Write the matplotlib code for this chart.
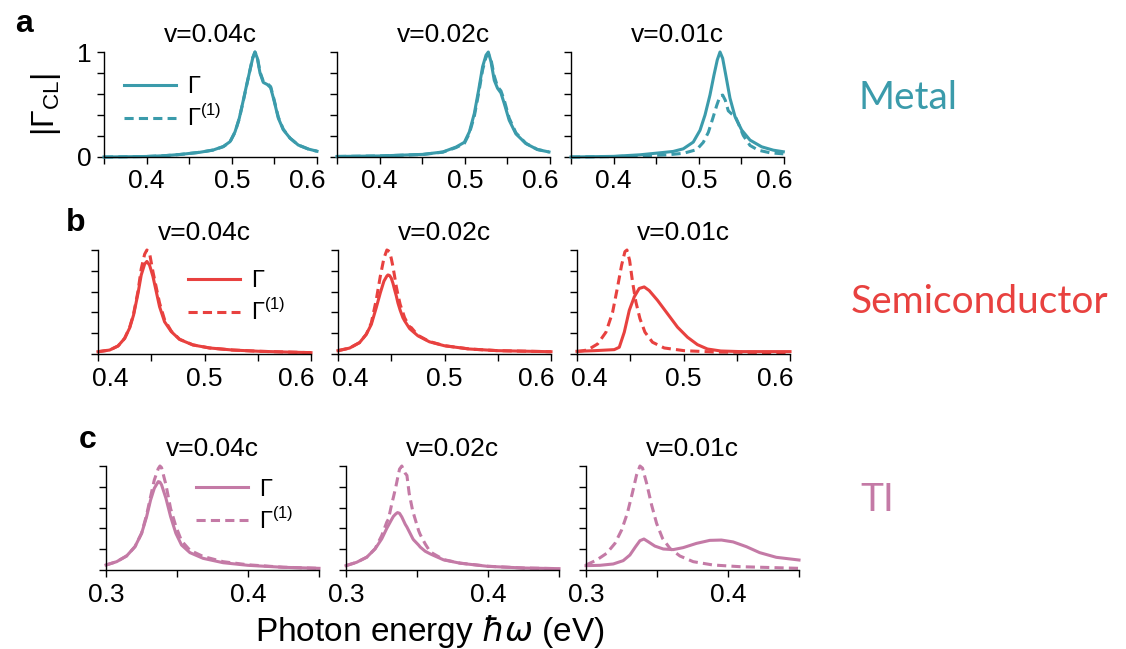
import matplotlib
matplotlib.use("Agg")
import matplotlib.pyplot as plt
import matplotlib.transforms as mtransforms
import numpy as np

plt.rcParams['font.family'] = ['Liberation Sans', 'DejaVu Sans']
plt.rcParams['mathtext.fontset'] = 'custom'
plt.rcParams['mathtext.rm'] = 'Liberation Sans'
plt.rcParams['mathtext.it'] = 'DejaVu Sans:italic'
plt.rcParams['mathtext.fallback'] = 'stixsans'

# ---------------- data ----------------
speeds = ["v=0.04c", "v=0.02c", "v=0.01c"]
materials = ["Metal", "Semiconductor", "TI"]
panel_letters = ["a", "b", "c"]

# Metal, v=0.04c
a1_x = [0.35, 0.40, 0.42, 0.4392, 0.4627, 0.4783, 0.490, 0.4979, 0.5038, 0.5088, 0.5135, 0.5175, 0.5214, 0.5245, 0.5272,
        0.530, 0.5331, 0.537, 0.5417, 0.5456, 0.5495, 0.5546, 0.5604, 0.5683, 0.578, 0.5898, 0.60]
a1_g = [0.0, 0.005, 0.012, 0.024, 0.045, 0.067, 0.10, 0.146, 0.24, 0.37, 0.54, 0.69, 0.83, 0.94, 1.0,
        0.94, 0.80, 0.71, 0.69, 0.66, 0.54, 0.37, 0.26, 0.18, 0.114, 0.076, 0.055]
a1_g1 = [0.0, 0.005, 0.012, 0.024, 0.045, 0.066, 0.098, 0.143, 0.235, 0.365, 0.535, 0.685, 0.83, 0.945, 1.0,
         0.95, 0.81, 0.72, 0.70, 0.67, 0.55, 0.38, 0.265, 0.18, 0.114, 0.076, 0.055]
# Metal, v=0.02c
a2_x = [0.35, 0.4002, 0.4508, 0.4742, 0.4898, 0.4995, 0.5054, 0.5112, 0.5163, 0.5209, 0.5249, 0.5276, 0.5307, 0.5346,
        0.5384, 0.5424, 0.5463, 0.5521, 0.560, 0.5717, 0.5852, 0.5988]
a2_g = [0.005, 0.01, 0.025, 0.048, 0.095, 0.14, 0.24, 0.415, 0.64, 0.86, 0.97, 1.0, 0.91, 0.73,
        0.655, 0.61, 0.51, 0.35, 0.22, 0.128, 0.071, 0.048]
a2_g1 = [0.005, 0.01, 0.024, 0.046, 0.09, 0.13, 0.225, 0.39, 0.61, 0.83, 0.95, 0.98, 0.93, 0.77,
         0.67, 0.63, 0.54, 0.37, 0.23, 0.13, 0.072, 0.048]
# Metal, v=0.01c
a3_x = [0.35, 0.40, 0.431, 0.4545, 0.47, 0.4818, 0.4935, 0.5014, 0.5073, 0.5131, 0.5178, 0.5217, 0.5249, 0.528,
        0.5319, 0.5366, 0.5425, 0.5503, 0.5601, 0.5738, 0.5875, 0.5992]
a3_g = [0.0, 0.006, 0.021, 0.04, 0.053, 0.078, 0.142, 0.254, 0.40, 0.59, 0.78, 0.925, 1.0, 0.94,
        0.77, 0.56, 0.385, 0.257, 0.161, 0.097, 0.065, 0.05]
a3_x1 = [0.35, 0.40, 0.4623, 0.4818, 0.4975, 0.5053, 0.5112, 0.5163, 0.521, 0.5249, 0.528, 0.5311, 0.5346, 0.5386,
         0.5425, 0.5464, 0.5522, 0.5601, 0.5698, 0.5836, 0.5992]
a3_g1 = [0.0, 0.004, 0.02, 0.035, 0.07, 0.14, 0.235, 0.365, 0.49, 0.58, 0.59, 0.54, 0.44, 0.41,
         0.39, 0.32, 0.205, 0.11, 0.065, 0.04, 0.03]

# Semiconductor, v=0.04c
b1_x = [0.40, 0.4109, 0.4188, 0.425, 0.4297, 0.4334, 0.4375, 0.4406, 0.4438, 0.4459, 0.4484, 0.4516, 0.4547, 0.4578,
        0.4625, 0.4688, 0.4766, 0.4891, 0.5047, 0.5266, 0.5516, 0.5766, 0.60]
b1_g = [0.022, 0.038, 0.077, 0.15, 0.25, 0.375, 0.58, 0.76, 0.865, 0.89, 0.855, 0.745, 0.60, 0.455,
        0.31, 0.215, 0.14, 0.087, 0.058, 0.038, 0.026, 0.019, 0.013]
b1_g1 = [0.022, 0.038, 0.077, 0.15, 0.255, 0.385, 0.60, 0.82, 0.96, 1.0, 0.97, 0.79, 0.64, 0.49,
         0.33, 0.22, 0.142, 0.088, 0.058, 0.038, 0.026, 0.019, 0.013]
# Semiconductor, v=0.02c
b2_x = [0.40, 0.4109, 0.4203, 0.4266, 0.4313, 0.4359, 0.4397, 0.4431, 0.4459, 0.4469, 0.4484, 0.45, 0.4516, 0.4531,
        0.4547, 0.4563, 0.4584, 0.4609, 0.4625, 0.4672, 0.4688, 0.475, 0.4859, 0.50, 0.5234, 0.55, 0.60]
b2_g = [0.032, 0.057, 0.11, 0.19, 0.285, 0.445, 0.587, 0.70, 0.75, 0.76, 0.755, 0.73, 0.68, 0.62,
        0.56, 0.49, 0.42, 0.35, 0.32, 0.245, 0.23, 0.175, 0.117, 0.079, 0.048, 0.032, 0.022]
b2_g1 = [0.032, 0.057, 0.11, 0.19, 0.30, 0.52, 0.746, 0.92, 1.0, 0.995, 0.984, 0.92, 0.84, 0.75,
         0.65, 0.57, 0.476, 0.40, 0.35, 0.26, 0.254, 0.18, 0.12, 0.08, 0.048, 0.032, 0.022]
# Semiconductor, v=0.01c
b3_x1 = [0.40, 0.41, 0.4194, 0.4272, 0.4334, 0.4381, 0.4419, 0.445, 0.4469, 0.4494, 0.4522, 0.4553, 0.4591, 0.4638,
         0.4709, 0.4819, 0.5006, 0.5288, 0.60]
b3_g1 = [0.023, 0.039, 0.097, 0.21, 0.40, 0.645, 0.855, 0.984, 1.0, 0.90, 0.69, 0.50, 0.34, 0.21,
         0.113, 0.058, 0.032, 0.019, 0.013]
b3_x = [0.40, 0.4163, 0.435, 0.4397, 0.4444, 0.4491, 0.4538, 0.4584, 0.4631, 0.4678, 0.4756, 0.485, 0.4944, 0.5038,
        0.5131, 0.5225, 0.535, 0.5538, 0.60]
b3_g = [0.026, 0.032, 0.042, 0.065, 0.21, 0.42, 0.55, 0.63, 0.645, 0.61, 0.516, 0.387, 0.258, 0.161,
        0.09, 0.048, 0.029, 0.023, 0.023]

# TI, v=0.04c
c1_x = [0.30, 0.3075, 0.3145, 0.3204, 0.3251, 0.3286, 0.3314, 0.334, 0.3368, 0.338, 0.3391, 0.3422, 0.3455, 0.3492,
        0.3532, 0.3591, 0.3684, 0.3825, 0.40, 0.4247, 0.45]
c1_g = [0.048, 0.08, 0.135, 0.224, 0.353, 0.513, 0.673, 0.785, 0.85, 0.845, 0.82, 0.69, 0.513, 0.353,
        0.24, 0.167, 0.112, 0.07, 0.045, 0.026, 0.016]
c1_g1 = [0.048, 0.08, 0.135, 0.224, 0.355, 0.53, 0.705, 0.865, 0.975, 1.0, 0.985, 0.82, 0.59, 0.42,
         0.28, 0.19, 0.13, 0.08, 0.05, 0.027, 0.016]
# TI, v=0.02c
c2_x = [0.30, 0.3075, 0.3146, 0.3205, 0.3252, 0.3287, 0.3299, 0.3323, 0.3334, 0.3351, 0.3363, 0.3377, 0.3393, 0.3417,
        0.3429, 0.3445, 0.3471, 0.3476, 0.3511, 0.3523, 0.3558, 0.3593, 0.3617, 0.3688, 0.3805, 0.40, 0.4253, 0.45]
c2_g = [0.042, 0.074, 0.123, 0.203, 0.30, 0.40, 0.43, 0.49, 0.516, 0.54, 0.552, 0.545, 0.51, 0.44,
        0.413, 0.37, 0.30, 0.29, 0.24, 0.22, 0.18, 0.155, 0.14, 0.097, 0.065, 0.035, 0.019, 0.013]
c2_g1 = [0.042, 0.074, 0.123, 0.205, 0.332, 0.46, 0.49, 0.64, 0.70, 0.80, 0.88, 0.97, 1.0, 0.93,
         0.91, 0.735, 0.56, 0.54, 0.38, 0.34, 0.25, 0.175, 0.155, 0.10, 0.066, 0.036, 0.019, 0.013]
# TI, v=0.01c
c3_x1 = [0.30, 0.3075, 0.3145, 0.3204, 0.3251, 0.3291, 0.3326, 0.3356, 0.338, 0.3398, 0.3427, 0.3462, 0.3497, 0.3539,
         0.3591, 0.3661, 0.3755, 0.3895, 0.4083, 0.45]
c3_g1 = [0.048, 0.096, 0.16, 0.256, 0.385, 0.545, 0.737, 0.913, 1.0, 0.98, 0.833, 0.625, 0.449, 0.304,
         0.208, 0.135, 0.08, 0.048, 0.032, 0.016]
c3_x = [0.30, 0.3098, 0.3192, 0.3262, 0.3309, 0.3349, 0.338, 0.3408, 0.3438, 0.3485, 0.3544, 0.3614, 0.3684, 0.3778,
        0.3872, 0.3954, 0.4036, 0.413, 0.4223, 0.434, 0.45]
c3_g = [0.042, 0.045, 0.058, 0.09, 0.144, 0.224, 0.282, 0.298, 0.272, 0.23, 0.202, 0.196, 0.215, 0.256,
        0.285, 0.288, 0.27, 0.224, 0.167, 0.122, 0.096]

colors = ["#3b9bab", "#e8413f", "#c47aa6"]

rows = [
    [(a1_x, a1_g, a1_x, a1_g1), (a2_x, a2_g, a2_x, a2_g1), (a3_x, a3_g, a3_x1, a3_g1)],
    [(b1_x, b1_g, b1_x, b1_g1), (b2_x, b2_g, b2_x, b2_g1), (b3_x, b3_g, b3_x1, b3_g1)],
    [(c1_x, c1_g, c1_x, c1_g1), (c2_x, c2_g, c2_x, c2_g1), (c3_x, c3_g, c3_x1, c3_g1)],
]

xlims = [(0.35, 0.6), (0.4, 0.6), (0.3, 0.45)]
xticks = [np.arange(0.35, 0.601, 0.05), np.arange(0.40, 0.601, 0.05), np.arange(0.30, 0.451, 0.05)]
xlabels_shown = [[0.4, 0.5, 0.6], [0.4, 0.5, 0.6], [0.3, 0.4]]

# ---------------- layout ----------------
W, H = 1126, 649
fig = plt.figure(figsize=(W / 100, H / 100), dpi=100)

row_px = [(52, 157), (250, 354), (466, 570)]
col_px = [[104, 337, 571], [98, 338, 577], [106, 346, 586]]
width_px = 213
# horizontal nudges (pixels) for first / last labelled x tick in each row
first_shift = [0, 12, 0]
last_shift = [-10, -15, 0]
leg_anchor = [(0.05, 0.86), (0.38, 0.90), (0.38, 0.97)]

for r in range(3):
    top, bot = row_px[r]
    for c in range(3):
        left = col_px[r][c]
        ax = fig.add_axes([left / W, 1 - bot / H, width_px / W, (bot - top) / H])
        x, g, x1, g1 = rows[r][c]
        col = colors[r]
        l1, = ax.plot(x, g, color=col, lw=2.2, solid_joinstyle='round', clip_on=False, label="Γ")
        l2, = ax.plot(x1, g1, color=col, lw=2.2, ls=(0, (3.0, 1.7)), clip_on=False, label="Γ$^{(1)}$")
        ax.set_xlim(*xlims[r])
        ax.set_ylim(0, 1)
        ax.set_yticks(np.arange(0, 1.01, 0.2))
        if r == 0 and c == 0:
            ax.set_yticklabels(["0", "", "", "", "", "1"])
        else:
            ax.set_yticklabels([])
        ax.set_xticks(xticks[r])
        labs = []
        for t in xticks[r]:
            if any(abs(t - s) < 1e-6 for s in xlabels_shown[r]):
                labs.append(f"{t:.1f}")
            else:
                labs.append("")
        ax.set_xticklabels(labs)
        for s in ["top", "right"]:
            ax.spines[s].set_visible(False)
        for s in ["left", "bottom"]:
            ax.spines[s].set_linewidth(1.0)
        ax.tick_params(direction='out', length=5, width=1.0, labelsize=19, pad=4)
        tls = ax.get_xticklabels()
        if first_shift[r]:
            lab = tls[0]
            lab.set_transform(lab.get_transform() +
                              mtransforms.ScaledTranslation(first_shift[r] / 100, 0, fig.dpi_scale_trans))
        if last_shift[r]:
            lab = tls[-1]
            lab.set_transform(lab.get_transform() +
                              mtransforms.ScaledTranslation(last_shift[r] / 100, 0, fig.dpi_scale_trans))
        ax.set_title(speeds[c], fontsize=19, pad=7)
        if c == 0:
            ax.legend(handles=[l1, l2], frameon=False, fontsize=17,
                      loc='upper left', bbox_to_anchor=leg_anchor[r],
                      handlelength=2.2, handletextpad=0.45, labelspacing=0.3,
                      borderaxespad=0)

# panel letters
fig.text(24 / W, 1 - 24 / H, "a", fontsize=23, fontweight='bold', ha='center', va='center')
fig.text(76 / W, 1 - 223 / H, "b", fontsize=23, fontweight='bold', ha='center', va='center')
fig.text(88 / W, 1 - 440 / H, "c", fontsize=23, fontweight='bold', ha='center', va='center')

# y label
fig.text(46 / W, 1 - 104 / H, "|Γ$_{\\mathrm{CL}}$|", fontsize=23, rotation=90, ha='center', va='center')

# x label
fig.text(430 / W, 1 - 631 / H, "Photon energy $\\hbar\\omega$ (eV)", fontsize=24, ha='center', va='center')

# material labels
mat_pos = [(908, 98), (979, 302), (877, 500)]
for (mx, my), name, col in zip(mat_pos, materials, colors):
    fig.text(mx / W, 1 - my / H, name, fontsize=28, color=col, ha='center', va='center',
             family=['Lato', 'DejaVu Sans'])

fig.savefig("out.png", dpi=100)
